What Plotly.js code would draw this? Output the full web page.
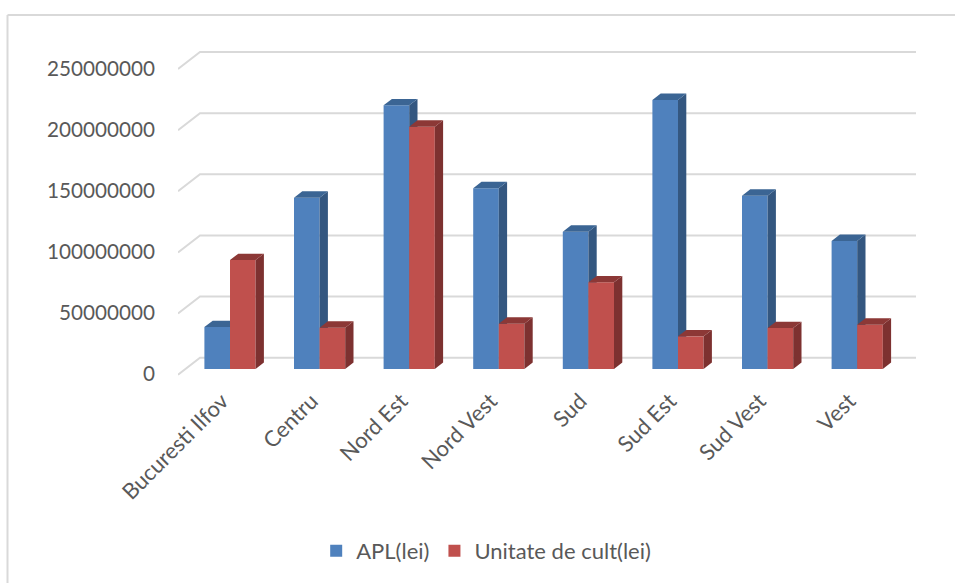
<!DOCTYPE html>
<html>
<head>
<meta charset="utf-8">
<script src="https://cdn.plot.ly/plotly-3.0.1.min.js"></script>
<style>html,body{margin:0;padding:0;background:#fff}</style>
</head>
<body>
<div id="chart" style="width:955px;height:583px"></div>
<script>
// Regional totals, in lei
const regions = ["Bucuresti Ilfov", "Centru", "Nord Est", "Nord Vest", "Sud", "Sud Est", "Sud Vest", "Vest"];
const apl = [34300000, 140100000, 215600000, 147800000, 112300000, 220000000, 141700000, 104700000];
const cult = [89100000, 33800000, 198200000, 37100000, 70900000, 26700000, 33500000, 36200000];
const yTicks = [0, 50000000, 100000000, 150000000, 200000000, 250000000];

const FONT = "Lato, 'Open Sans', sans-serif";
const TEXT = "#595959";
const GRID = "#d9d9d9";

// Plot box in pixels and the scale of both axes
const box = {left: 178, right: 917, top: 50, bottom: 376};
const zeroY = 369, firstX = 230, slotPx = 89.6;
const valPerPx = 50000000 / 61.14;
const xRange = [(box.left - firstX) / slotPx, (box.right - firstX) / slotPx];
const yRange = [(zeroY - box.bottom) * valPerPx, (zeroY - box.top) * valPerPx];

// Pseudo-3D extrusion, expressed in axis units
const barW = 25.6 / slotPx;
const depthX = 8.3 / slotPx;
const depthY = 6.4 * valPerPx;

// Polygons for the side and top faces of a row of columns (null-separated)
function faces(values, offset) {
  const side = {x: [], y: []}, top = {x: [], y: []};
  values.forEach((v, i) => {
    const l = i + offset, r = l + barW;
    side.x.push(r, r + depthX, r + depthX, r, r, null);
    side.y.push(0, depthY, v + depthY, v, 0, null);
    top.x.push(l, l + depthX, r + depthX, r, l, null);
    top.y.push(v, v + depthY, v + depthY, v, v, null);
  });
  return {side, top};
}

function polygon(p, color, yaxis) {
  return {type: "scatter", mode: "lines", x: p.x, y: p.y, yaxis, fill: "toself",
    fillcolor: color, line: {width: 0, color}, showlegend: false, hoverinfo: "skip"};
}

// Floor-and-wall guide lines: a short diagonal from the front edge, then across the back wall
const wallFrontY = -5.7 * valPerPx, wallBackY = 11.3 * valPerPx;
const wallBackX = (200 - firstX) / slotPx, wallEndX = (916 - firstX) / slotPx, wallStartX = xRange[0];
const wall = {x: [], y: []};
yTicks.forEach(v => {
  wall.x.push(wallStartX, wallBackX, wallEndX, null);
  wall.y.push(v + wallFrontY, v + wallBackY, v + wallBackY, null);
});

const xs = regions.map((_, i) => i);
const aplFaces = faces(apl, -barW);
const cultFaces = faces(cult, 0);

const traces = [
  {type: "scatter", mode: "lines", x: wall.x, y: wall.y, line: {color: GRID, width: 2},
   showlegend: false, hoverinfo: "skip"},
  {type: "bar", name: "APL(lei)", x: xs, y: apl, width: barW, offset: -barW, yaxis: "y2",
   marker: {color: "#4f81bd", line: {width: 0}}},
  polygon(aplFaces.side, "#345780", "y2"),
  polygon(aplFaces.top, "#3b6594", "y2"),
  {type: "bar", name: "Unitate de cult(lei)", x: xs, y: cult, width: barW, offset: 0, yaxis: "y3",
   marker: {color: "#c0504d", line: {width: 0}}},
  polygon(cultFaces.side, "#7d3130", "y3"),
  polygon(cultFaces.top, "#8c3836", "y3")
];

const overlayAxis = {overlaying: "y", range: yRange, visible: false, fixedrange: true};

const layout = {
  width: 955, height: 583, autosize: false,
  paper_bgcolor: "#fff", plot_bgcolor: "rgba(0,0,0,0)",
  margin: {l: box.left, r: 955 - box.right, t: box.top, b: 583 - box.bottom, pad: 0, autoexpand: false},
  barmode: "overlay",
  font: {family: FONT, color: TEXT, size: 20},
  xaxis: {range: xRange, tickmode: "array", tickvals: xs, ticktext: regions, tickangle: -45,
    showgrid: false, zeroline: false, showline: false, ticks: "", ticklabelstandoff: 7, ticklabelshift: -8,
    tickfont: {family: FONT, size: 22, color: TEXT}},
  yaxis: {range: yRange, tickmode: "array", tickvals: yTicks, ticktext: yTicks.map(String),
    showgrid: false, zeroline: false, showline: false, ticks: "",
    ticklabelstandoff: 22, ticklabelshift: 5,
    tickfont: {family: FONT, size: 20.7, color: TEXT}},
  yaxis2: overlayAxis,
  yaxis3: overlayAxis,
  showlegend: true,
  legend: {orientation: "h", x: 0.187, xanchor: "left", y: -0.472, yanchor: "top",
    font: {family: FONT, size: 22, color: TEXT}, bgcolor: "rgba(0,0,0,0)", traceorder: "normal"},
  shapes: [
    {type: "line", xref: "paper", yref: "paper", layer: "below",
     x0: (7.5 - box.left) / (box.right - box.left), x1: (955 - box.left) / (box.right - box.left),
     y0: (box.bottom - 15) / (box.bottom - box.top), y1: (box.bottom - 15) / (box.bottom - box.top),
     line: {color: GRID, width: 2}},
    {type: "line", xref: "paper", yref: "paper", layer: "below",
     x0: (7.5 - box.left) / (box.right - box.left), x1: (7.5 - box.left) / (box.right - box.left),
     y0: (box.bottom - 15) / (box.bottom - box.top), y1: (box.bottom - 583) / (box.bottom - box.top),
     line: {color: GRID, width: 2}}
  ]
};

Plotly.newPlot("chart", traces, layout, {displayModeBar: false, staticPlot: true});
</script>
</body>
</html>
